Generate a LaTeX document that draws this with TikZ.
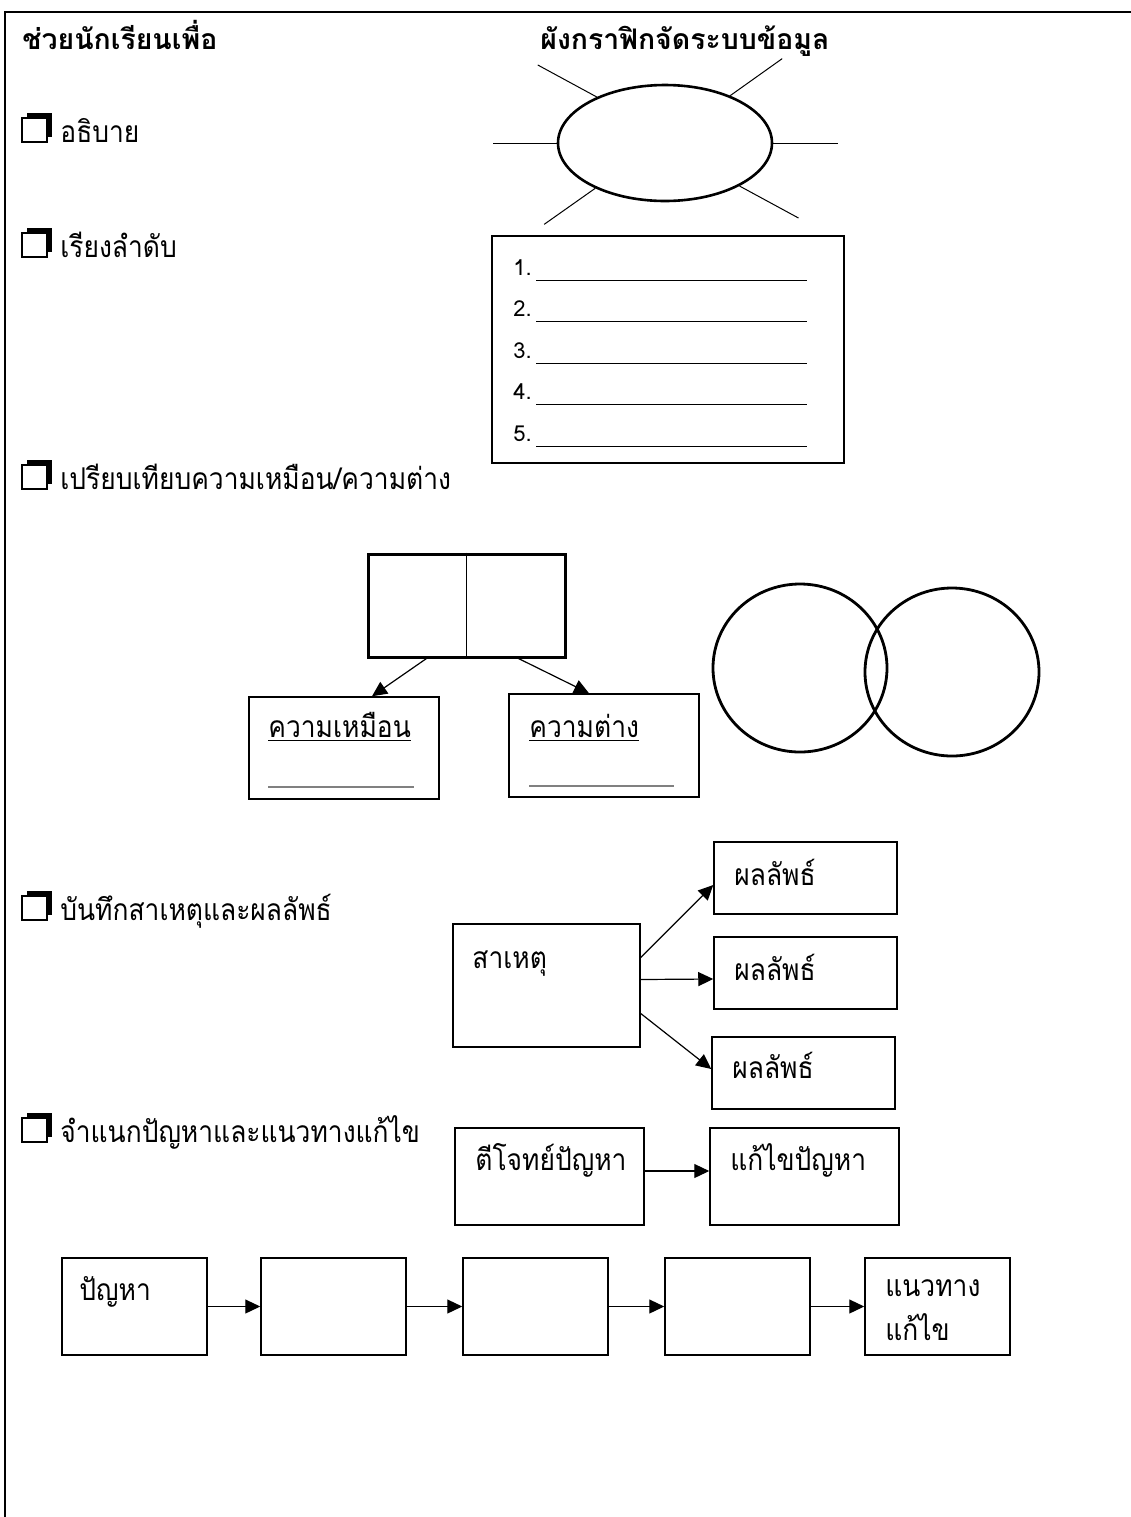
\documentclass[tikz,border=0pt]{standalone}
\usepackage{fontspec}
\setmainfont[Script=Thai,FakeStretch=0.88]{Loma}
\newfontfamily\headfont[Script=Thai]{Loma}
\usetikzlibrary{arrows.meta,shapes.geometric}
\tikzset{
  box/.style={draw,line width=0.75pt,inner sep=0pt},
  oval/.style={draw,ellipse,inner sep=0pt},
  txt/.style={anchor=base west,inner sep=0pt,font=\fontsize{15}{18}\selectfont},
  head/.style={anchor=base west,inner sep=0pt,font=\headfont\bfseries\fontsize{14.2}{17}\selectfont},
  arr/.style={-{Triangle[length=7.5pt,width=7pt]},line width=0.6pt},
  chkbox/.pic={\fill (-10,-15) rectangle (15,9);
    \filldraw[fill=white,line width=1.1pt] (-15,-10) rectangle (10,14);}
}
\begin{document}
\begin{tikzpicture}[x=0.5pt,y=-0.5pt]
  \useasboundingbox (0,0) rectangle (1131,1517);
  \draw[line width=1.3pt] (5,1517) -- (5,12) -- (1131,12);
  \node[head] (titleL) at (22,49) {ช่วยนักเรียนเพื่อ};
  \node[head] (titleR) at (540,49) {ผังกราฟิกจัดระบบข้อมูล};
  % checklist on the left
  \foreach \y/\t [count=\i] in {112/อธิบาย, 227/เรียงลำดับ, 459/{เปรียบเทียบความเหมือน/ความต่าง},
      890/บันทึกสาเหตุและผลลัพธ์, 1112/จำแนกปัญหาและแนวทางแก้ไข}{
    \pic at (37,\y+16) {chkbox};
    \node[txt] (item\i) at (60,\y+30) {\t};
  }
  % main idea with rays
  \node[oval,line width=1.3pt,minimum width=107pt,minimum height=58pt] (sun) at (665,143) {};
  \foreach \a/\dx/\dy in {180/-64/0, 0/65/0, 146/-59/-32, 36/52/-37, 213/-51/36, 330/59/32}
    \draw[line width=0.5pt] (sun.\a) -- ++(\dx,\dy);
  % sequence
  \node[box,minimum width=176pt,minimum height=113.5pt] (order) at (668,349.5) {};
  \foreach \i in {1,...,5}{
    \node[txt,font=\headfont\fontsize{11}{13}\selectfont] (num\i) at (513,233.5+41.5*\i) {\i.};
    \draw[line width=0.5pt] (536,238.5+41.5*\i) -- (807,238.5+41.5*\i);
  }
  % compare and contrast
  \node[box,line width=1.5pt,minimum width=98.5pt,minimum height=51.5pt] (split) at (466.5,605.5) {};
  \draw[line width=0.5pt] (split.north) -- (split.south);
  \node[box,minimum width=95pt,minimum height=51pt] (same) at (344,748) {};
  \node[box,minimum width=95pt,minimum height=51.5pt] (diff) at (604,745.5) {};
  \draw[arr] ([xshift=-20pt]split.south) -- ([xshift=14pt]same.north);
  \draw[arr] ([xshift=26pt]split.south) -- ([xshift=-7.5pt]diff.north);
  \node[txt] (sameT) at (268,737) {\underline{ความเหมือน}};
  \node[txt] (diffT) at (529,737) {\underline{ความต่าง}};
  \draw[gray,line width=0.6pt] (268,787) -- (414,787);
  \draw[gray,line width=0.6pt] (529,786) -- (674,786);
  \node[oval,line width=1.4pt,minimum width=87pt,minimum height=84pt] (vennL) at (800,668) {};
  \node[oval,line width=1.4pt,minimum width=87pt,minimum height=84pt] (vennR) at (952,672) {};
  % cause and effect
  \node[box,minimum width=93.5pt,minimum height=61.5pt] (cause) at (546.5,985.5) {};
  \node[box,minimum width=91.5pt,minimum height=36pt] (eff1) at (805.5,878) {};
  \node[box,minimum width=91.5pt,minimum height=36pt] (eff2) at (805.5,973) {};
  \node[box,minimum width=91.5pt,minimum height=36pt] (eff3) at (803.5,1073) {};
  \node[txt] (causeT) at (472,968) {สาเหตุ};
  \node[txt] (eff1T) at (734,885) {ผลลัพธ์};
  \node[txt] (eff2T) at (734,980) {ผลลัพธ์};
  \node[txt] (eff3T) at (732,1078) {ผลลัพธ์};
  \draw[arr] ([yshift=14pt]cause.east) -- ([yshift=-3.5pt]eff1.west);
  \draw[arr] ([yshift=3pt]cause.east) -- ([yshift=-3pt]eff2.west);
  \draw[arr] ([yshift=-14pt]cause.east) -- ([yshift=2pt]eff3.west);
  % problem and solution
  \node[box,minimum width=94.5pt,minimum height=48.5pt] (pose) at (549.5,1176.5) {};
  \node[box,minimum width=94.5pt,minimum height=48.5pt] (solve) at (804.5,1176.5) {};
  \node[txt] (poseT) at (475,1170) {ตีโจทย์ปัญหา};
  \node[txt] (solveT) at (730,1170) {แก้ไขปัญหา};
  \draw[arr] ([yshift=2.75pt]pose.east) -- ([yshift=2.75pt]solve.west);
  \foreach \x [count=\i] in {134.5,333.5,535.5,737.5,937.5}
    \node[box,minimum width=72.5pt,minimum height=48.5pt] (chain\i) at (\x,1306.5) {};
  \foreach \i/\j in {1/2,2/3,3/4,4/5}
    \draw[arr] (chain\i.east) -- (chain\j.west);
  \node[txt] (chainT1) at (79,1300) {ปัญหา};
  \node[txt] (chainT5a) at (885,1296) {แนวทาง};
  \node[txt] (chainT5b) at (885,1340) {แก้ไข};
\end{tikzpicture}
\end{document}
